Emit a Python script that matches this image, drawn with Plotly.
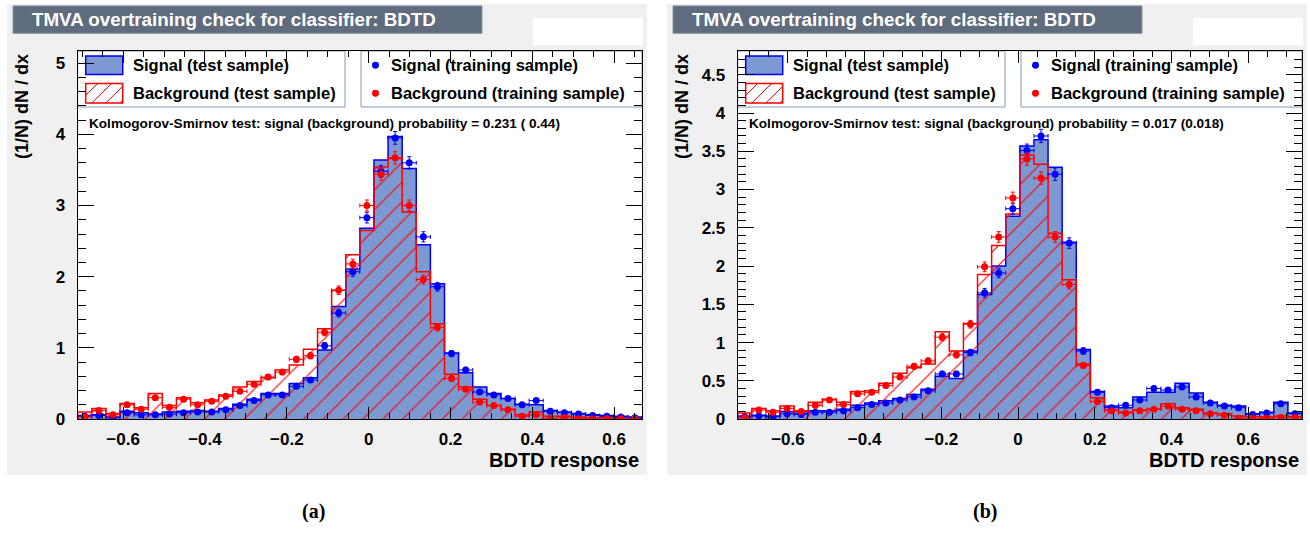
import numpy as np
import plotly.graph_objects as go

W, H = 1310, 541
NBINS = 40
range_a = (-0.711, 0.668)
range_b = (-0.731, 0.7405)

# ---------------- panel (a) ----------------
sig_test_a = [0.05, 0.06, 0.03, 0.11, 0.09, 0.07, 0.10, 0.11, 0.12, 0.11,
              0.15, 0.21, 0.28, 0.36, 0.36, 0.50, 0.58, 0.97, 1.58, 2.11,
              2.68, 3.64, 3.97, 3.52, 2.45, 1.90, 0.93, 0.65, 0.45, 0.36,
              0.29, 0.21, 0.20, 0.12, 0.10, 0.08, 0.06, 0.05, 0.04, 0.03]
bkg_test_a = [0.10, 0.15, 0.08, 0.22, 0.16, 0.36, 0.19, 0.30, 0.23, 0.27,
              0.34, 0.45, 0.53, 0.58, 0.69, 0.76, 0.98, 1.27, 1.81, 2.31,
              2.65, 3.54, 3.66, 2.91, 2.07, 1.34, 0.63, 0.45, 0.28, 0.19,
              0.14, 0.06, 0.10, 0.04, 0.04, 0.03, 0.02, 0.02, 0.015, 0.01]
sig_train_a = [0.04, 0.05, 0.02, 0.09, 0.06, 0.06, 0.07, 0.09, 0.10, 0.10,
               0.13, 0.19, 0.26, 0.34, 0.34, 0.46, 0.55, 1.03, 1.49, 2.07,
               2.83, 3.48, 3.95, 3.60, 2.56, 1.86, 0.92, 0.69, 0.38, 0.34,
               0.29, 0.20, 0.26, 0.11, 0.09, 0.07, 0.05, 0.04, 0.03, 0.02]
bkg_train_a = [0.03, 0.12, 0.06, 0.20, 0.14, 0.30, 0.165, 0.28, 0.20, 0.25,
               0.32, 0.39, 0.49, 0.59, 0.66, 0.84, 0.89, 1.22, 1.81, 2.18,
               3.00, 3.44, 3.67, 3.00, 1.96, 1.29, 0.57, 0.42, 0.24, 0.19,
               0.13, 0.04, 0.06, 0.01, 0.02, 0.005, 0.005, 0.005, 0.005, 0.0]
ks_a = "Kolmogorov-Smirnov test: signal (background) probability = 0.231 ( 0.44)"

# ---------------- panel (b) ----------------
sig_test_b = [0.04, 0.05, 0.04, 0.10, 0.08, 0.11, 0.11, 0.13, 0.18, 0.21,
              0.24, 0.27, 0.32, 0.39, 0.56, 0.53, 0.89, 1.63, 2.00, 2.65,
              3.57, 3.65, 3.29, 2.31, 0.91, 0.36, 0.17, 0.15, 0.29, 0.35,
              0.35, 0.47, 0.34, 0.22, 0.18, 0.17, 0.07, 0.09, 0.22, 0.08]
bkg_test_b = [0.08, 0.14, 0.11, 0.17, 0.11, 0.22, 0.26, 0.22, 0.36, 0.37,
              0.47, 0.60, 0.67, 0.72, 1.14, 0.89, 1.25, 1.89, 2.27, 2.68,
              3.45, 3.33, 2.43, 1.82, 0.72, 0.28, 0.12, 0.09, 0.12, 0.13,
              0.20, 0.15, 0.13, 0.08, 0.07, 0.04, 0.03, 0.03, 0.04, 0.03]
sig_train_b = [0.03, 0.04, 0.03, 0.07, 0.06, 0.09, 0.09, 0.11, 0.15, 0.19,
               0.21, 0.25, 0.29, 0.37, 0.59, 0.59, 0.87, 1.65, 1.91, 2.75,
               3.51, 3.70, 3.20, 2.30, 0.89, 0.35, 0.15, 0.18, 0.25, 0.40,
               0.38, 0.42, 0.29, 0.21, 0.17, 0.15, 0.06, 0.08, 0.20, 0.07]
bkg_train_b = [0.02, 0.12, 0.09, 0.14, 0.10, 0.18, 0.25, 0.19, 0.33, 0.35,
               0.44, 0.55, 0.69, 0.76, 1.07, 0.84, 1.24, 1.99, 2.38, 2.89,
               3.40, 3.15, 2.38, 1.76, 0.70, 0.23, 0.11, 0.08, 0.11, 0.13,
               0.17, 0.13, 0.11, 0.07, 0.05, 0.01, 0.01, 0.01, 0.02, 0.02]
ks_b = "Kolmogorov-Smirnov test: signal (background) probability = 0.017 (0.018)"

title_text = "TMVA overtraining check for classifier: BDTD"
xtitle = "BDTD response"
ytitle = "(1/N) dN / dx"
leg_labels = ["Signal (test sample)", "Background (test sample)",
              "Signal (training sample)", "Background (training sample)"]
captions = ["(a)", "(b)"]

SIG_FILL = "#7d99d1"
SIG_LINE = "#0000ee"
BKG_LINE = "#ff0000"
SIG_PT = "#0000ff"
BKG_PT = "#ff0000"
GREY = "#f0f0f0"
TITLE_BG = "#5f6c7d"
FONT = "Liberation Sans"


def px(x):
    return x / W


def py(y):
    return 1 - y / H


fig = go.Figure()
shapes = []
annotations = []

panels = [
    dict(rng=range_a, st=sig_test_a, bt=bkg_test_a, sr=sig_train_a, br=bkg_train_a,
         ks=ks_a, ymax=5.17, dy=1, dymin=0.2, off=0.0, xa="x", ya="y", cap=captions[0]),
    dict(rng=range_b, st=sig_test_b, bt=bkg_test_b, sr=sig_train_b, br=bkg_train_b,
         ks=ks_b, ymax=4.81, dy=0.5, dymin=0.1, off=660.0, xa="x2", ya="y2", cap=captions[1]),
]

for k, p in enumerate(panels):
    o = p["off"]
    edges = np.linspace(p["rng"][0], p["rng"][1], NBINS + 1)
    centers = 0.5 * (edges[:-1] + edges[1:])
    half = 0.5 * (edges[1] - edges[0])

    def step(vals):
        xs = [edges[0]] + list(edges) + [edges[-1]]
        ys = [0] + list(vals) + [vals[-1], 0]
        return xs, ys

    xs, ys = step(p["st"])
    fig.add_trace(go.Scatter(x=xs, y=ys, mode="lines", line=dict(color=SIG_LINE, width=1.5, shape="hv"),
                             fill="tozeroy", fillcolor=SIG_FILL, xaxis=p["xa"], yaxis=p["ya"],
                             showlegend=False, hoverinfo="skip"))
    xs, ys = step(p["bt"])
    fig.add_trace(go.Scatter(x=xs, y=ys, mode="lines", line=dict(color=BKG_LINE, width=1.5, shape="hv"),
                             fill="tozeroy", fillcolor="rgba(0,0,0,0)",
                             fillpattern=dict(shape="/", fgcolor=BKG_LINE, bgcolor="rgba(0,0,0,0)",
                                              size=14, solidity=0.08, fillmode="replace"),
                             xaxis=p["xa"], yaxis=p["ya"], showlegend=False, hoverinfo="skip"))
    for vals, col in ((p["sr"], SIG_PT), (p["br"], BKG_PT)):
        v = np.array(vals)
        err = 0.045 * np.sqrt(v)
        fig.add_trace(go.Scatter(x=centers, y=v, mode="markers",
                                 marker=dict(color=col, size=7),
                                 error_x=dict(type="constant", value=half, color=col, thickness=1, width=2),
                                 error_y=dict(type="data", array=err, color=col, thickness=1, width=2),
                                 xaxis=p["xa"], yaxis=p["ya"], showlegend=False, hoverinfo="skip"))

    # backgrounds
    shapes.append(dict(type="rect", xref="paper", yref="paper", x0=px(7 + o), x1=px(647 + o),
                       y0=py(484), y1=py(4), fillcolor=GREY, line=dict(width=0), layer="below"))
    shapes.append(dict(type="rect", xref="paper", yref="paper", x0=px(77.7 + o), x1=px(642 + o),
                       y0=py(427), y1=py(52), fillcolor="white", line=dict(width=0), layer="below"))
    # title box
    shapes.append(dict(type="rect", xref="paper", yref="paper", x0=px(13 + o), x1=px(482 + o),
                       y0=py(34), y1=py(6), fillcolor=TITLE_BG, line=dict(color="#8a96a6", width=1),
                       layer="above"))
    annotations.append(dict(text=title_text, xref="paper", yref="paper", x=px(30 + o), y=py(20),
                            xanchor="left", yanchor="middle", showarrow=False,
                            font=dict(family=FONT, size=18.8, color="white", weight="bold")))
    # white box top right
    shapes.append(dict(type="rect", xref="paper", yref="paper", x0=px(533 + o), x1=px(643 + o),
                       y0=py(46), y1=py(18), fillcolor="white", line=dict(width=0), layer="above"))
    # legend boxes
    shapes.append(dict(type="rect", xref="paper", yref="paper", x0=px(77.7 + o), x1=px(345 + o),
                       y0=py(109), y1=py(52), fillcolor="white", line=dict(color="#8898b8", width=1),
                       layer="below"))
    shapes.append(dict(type="rect", xref="paper", yref="paper", x0=px(361 + o), x1=px(642 + o),
                       y0=py(109), y1=py(52), fillcolor="white", line=dict(color="#8898b8", width=1),
                       layer="below"))
    # legend swatches
    sx0, sx1 = 85.7 + o, 122.7 + o
    shapes.append(dict(type="rect", xref="paper", yref="paper", x0=px(sx0), x1=px(sx1),
                       y0=py(76), y1=py(57), fillcolor=SIG_FILL, line=dict(color=SIG_LINE, width=1.5),
                       layer="below"))
    shapes.append(dict(type="rect", xref="paper", yref="paper", x0=px(sx0), x1=px(sx1),
                       y0=py(105), y1=py(85), fillcolor="white", line=dict(color=BKG_LINE, width=1.5),
                       layer="below"))
    hh = 20.0
    wsw = sx1 - sx0
    for c in (-8, 6, 20, 34):
        t0 = max(0.0, -c)
        t1 = min(hh, wsw - c)
        if t1 <= t0:
            continue
        shapes.append(dict(type="line", xref="paper", yref="paper",
                           x0=px(sx0 + c + t0), y0=py(105 - t0), x1=px(sx0 + c + t1), y1=py(105 - t1),
                           line=dict(color=BKG_LINE, width=1), layer="below"))
    for yy, col in ((66.5, SIG_PT), (95, BKG_PT)):
        shapes.append(dict(type="circle", xref="paper", yref="paper", x0=px(372 + o), x1=px(379 + o),
                           y0=py(yy + 3.5), y1=py(yy - 3.5), fillcolor=col, line=dict(width=0),
                           layer="below"))
    for txt, xx, yy in ((leg_labels[0], 130.5, 66.5), (leg_labels[1], 130.5, 95),
                        (leg_labels[2], 389, 66.5), (leg_labels[3], 389, 95)):
        annotations.append(dict(text=txt, xref="paper", yref="paper", x=px(xx + o), y=py(yy),
                                xanchor="left", yanchor="middle", showarrow=False,
                                font=dict(family=FONT, size=16.5, color="black", weight="bold")))
    annotations.append(dict(text=p["ks"], xref="paper", yref="paper", x=px(87 + o), y=py(126),
                            xanchor="left", yanchor="middle", showarrow=False,
                            font=dict(family=FONT, size=13.6, color="black", weight="bold")))
    annotations.append(dict(text=xtitle, xref="paper", yref="paper", x=px(641 + o), y=py(469),
                            xanchor="right", yanchor="middle", showarrow=False,
                            font=dict(family=FONT, size=20, color="black", weight="bold")))
    annotations.append(dict(text=ytitle, xref="paper", yref="paper", x=px(22 + o), y=py(109),
                            xanchor="center", yanchor="middle", showarrow=False, textangle=-90,
                            font=dict(family=FONT, size=18, color="black", weight="bold")))
    annotations.append(dict(text=p["cap"], xref="paper", yref="paper", x=px(313 + o + 12 * k), y=py(521),
                            xanchor="center", yanchor="middle", showarrow=False,
                            font=dict(family="Liberation Serif", size=20, color="black", weight="bold")))

    xkey = "xaxis" if k == 0 else "xaxis2"
    ykey = "yaxis" if k == 0 else "yaxis2"
    tickfont = dict(family=FONT, size=17, color="black", weight="bold")
    fig.update_layout(**{
        xkey: dict(domain=[px(77.7 + o), px(642 + o)], range=list(p["rng"]), anchor=p["ya"],
                   showline=True, linecolor="black", linewidth=1, mirror="ticks",
                   ticks="inside", ticklen=12, tickwidth=1, tickcolor="black",
                   tick0=0, dtick=0.2, showgrid=False, zeroline=False, tickfont=tickfont,
                   ticklabelstandoff=4,
                   minor=dict(tick0=0, dtick=0.05, ticks="inside", ticklen=6, tickcolor="black",
                              tickwidth=1, showgrid=False)),
        ykey: dict(domain=[py(427), py(52)], range=[0, p["ymax"]], anchor=p["xa"],
                   showline=True, linecolor="black", linewidth=1, mirror="ticks",
                   ticks="inside", ticklen=16, tickwidth=1, tickcolor="black",
                   tick0=0, dtick=p["dy"], showgrid=False, zeroline=False, tickfont=tickfont,
                   ticklabelstandoff=8,
                   minor=dict(tick0=0, dtick=p["dymin"], ticks="inside", ticklen=8, tickcolor="black",
                              tickwidth=1, showgrid=False)),
    })

fig.update_layout(width=W, height=H, margin=dict(l=0, r=0, t=0, b=0),
                  paper_bgcolor="white", plot_bgcolor="rgba(0,0,0,0)",
                  shapes=shapes, annotations=annotations, showlegend=False)
fig.write_html("out.html")
